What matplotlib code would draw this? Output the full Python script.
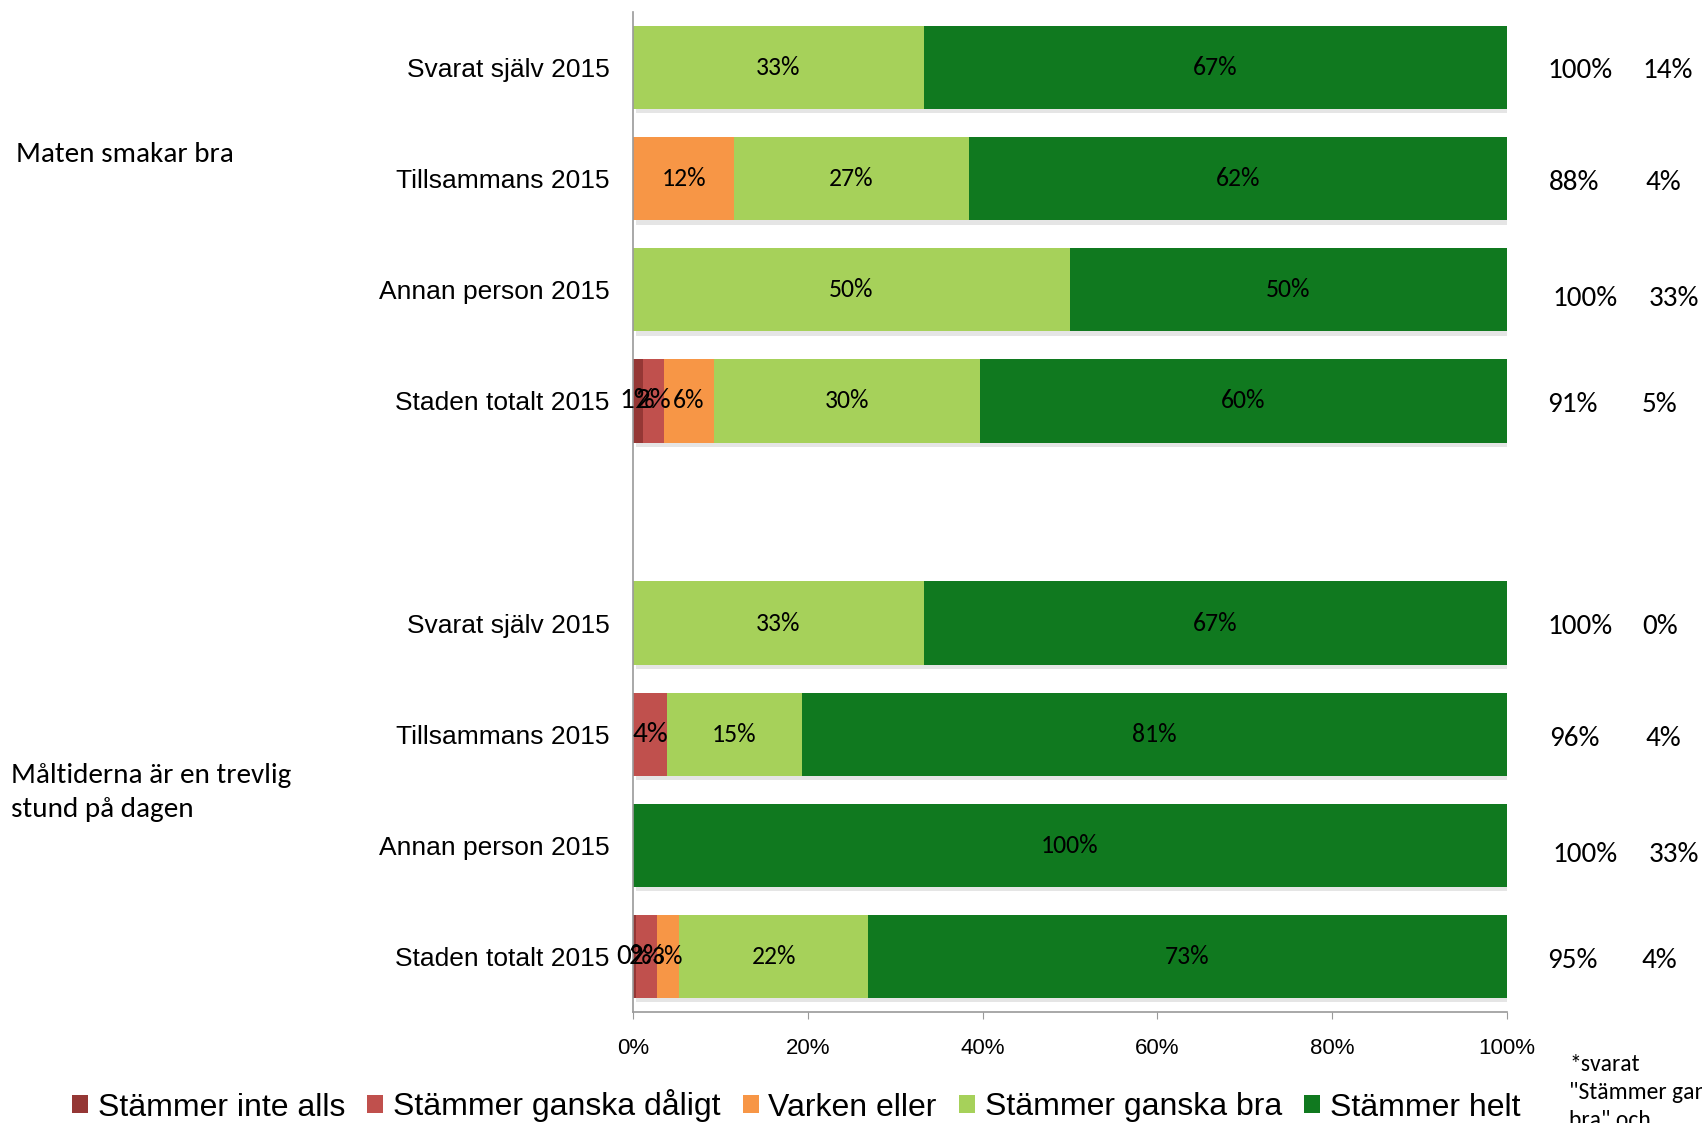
import matplotlib
matplotlib.use("Agg")
import matplotlib.pyplot as plt
import matplotlib.patheffects as pe
from matplotlib.patches import Patch
import numpy as np

categories = ["Svarat själv 2015", "Tillsammans 2015", "Annan person 2015", "Staden totalt 2015",
              "",
              "Svarat själv 2015", "Tillsammans 2015", "Annan person 2015", "Staden totalt 2015"]
series_names = ["Stämmer inte alls", "Stämmer ganska dåligt", "Varken eller",
                "Stämmer ganska bra", "Stämmer helt"]
inte_alls   = [0, 0, 0, 1.1, 0, 0, 0, 0, 0.3]
ganska_dal  = [0, 0, 0, 2.4, 0, 0, 3.9, 0, 2.4]
varken      = [0, 11.6, 0, 5.8, 0, 0, 0, 0, 2.6]
ganska_bra  = [33.3, 26.8, 50, 30.4, 0, 33.3, 15.4, 0, 21.6]
helt        = [66.7, 61.6, 50, 60.3, 0, 66.7, 80.7, 100, 73.1]
right_a = ["100%", "88%", "100%", "91%", "", "100%", "96%", "100%", "95%"]
right_b = ["14%", "4%", "33%", "5%", "", "0%", "4%", "33%", "4%"]
group_labels = ["Maten smakar bra", "Måltiderna är en trevlig\nstund på dagen"]
xticks = [0, 20, 40, 60, 80, 100]
xtick_labels = ["0%", "20%", "40%", "60%", "80%", "100%"]

colors = ["#953735", "#C0504D", "#F79646", "#A6D15A", "#10791F"]
label_sizes = [21, 21, 18.5, 18.5, 18.5]
CAL = ["Carlito", "Lato", "DejaVu Sans"]

W, H = 1702, 1123
fig = plt.figure(figsize=(W / 100, H / 100), dpi=100)
ax = fig.add_axes([633 / W, 1 - 1012 / H, 874 / W, 1000 / H])

series = [inte_alls, ganska_dal, varken, ganska_bra, helt]
y = np.arange(len(categories))
left = np.zeros(len(categories))
shadow = [pe.SimplePatchShadow(offset=(2, -3), shadow_rgbFace="#999999", alpha=0.25), pe.Normal()]
for vals, c, fs in zip(series, colors, label_sizes):
    vals = np.array(vals, dtype=float)
    bars = ax.barh(y, vals, left=left, height=0.75, color=c, edgecolor="none")
    for b in bars:
        b.set_path_effects(shadow)
    for yi, v, l in zip(y, vals, left):
        if v > 0:
            ax.text(l + v / 2, yi, f"{v:.0f}%", ha="center", va="center",
                    fontsize=fs, family=CAL, color="black")
    left = left + vals

ax.set_ylim(len(categories) - 0.5, -0.5)
ax.set_xlim(0, 100)
ax.set_yticks(y)
ax.set_yticklabels(categories, family="Liberation Sans", fontsize=19)
ax.tick_params(axis="y", length=0, pad=17)
ax.set_xticks(xticks)
ax.set_xticklabels(xtick_labels, family="Liberation Sans", fontsize=16)
ax.tick_params(axis="x", length=5, color="#999999", direction="out", pad=14)
for s in ["top", "right"]:
    ax.spines[s].set_visible(False)
for s in ["left", "bottom"]:
    ax.spines[s].set_color("#999999")
    ax.spines[s].set_linewidth(1.2)

# right-hand columns
xa_off = [0, 2, 5, 0, 0, 0, 2, 5, 0]
xb_off = [0, 3, 7, 0, 0, 0, 3, 7, 0]
for yi, a, b, oa, ob in zip(y, right_a, right_b, xa_off, xb_off):
    if a:
        yy = 1 - (71 + yi * 111.2 + (5 if oa == 5 else 0)) / H
        fig.text((1547 + oa) / W, yy, a, ha="left", va="center", fontsize=21, family=CAL)
        fig.text((1642 + ob) / W, yy, b, ha="left", va="center", fontsize=21, family=CAL)

fig.text(16 / W, 1 - 155 / H, group_labels[0], ha="left", va="center", fontsize=21, family=CAL)
fig.text(11 / W, 1 - 792 / H, group_labels[1], ha="left", va="center", fontsize=21,
         family=CAL, linespacing=1.45)

fig.text(1569 / W, 1 - 1054 / H, '*svarat\n"Stämmer ganska\nbra" och', ha="left", va="top",
         fontsize=17, family=CAL, linespacing=1.4)

handles = [Patch(facecolor=c, edgecolor="none") for c in colors]
leg = fig.legend(handles, series_names, loc="center left", bbox_to_anchor=(72 / W, 1 - 1106 / H),
                 ncol=5, frameon=False, prop={"family": "Liberation Sans", "size": 23},
                 handlelength=0.5, handleheight=0.5, handletextpad=0.3, columnspacing=0.7,
                 borderaxespad=0, borderpad=0)

fig.savefig("out.png", dpi=100)
